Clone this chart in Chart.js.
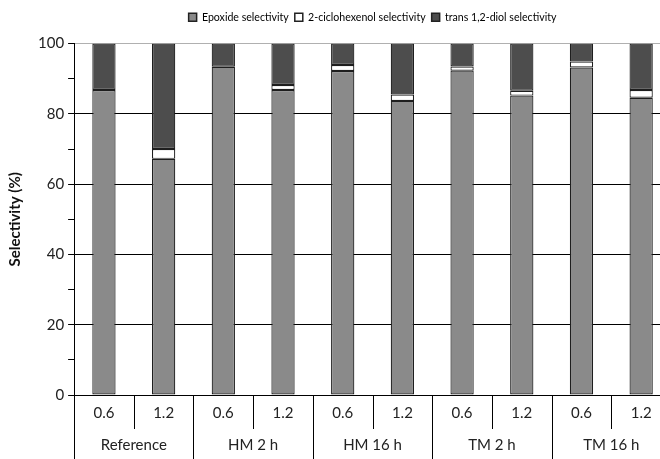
<!doctype html>
<html lang="en">
<head>
  <meta charset="UTF-8">
  <title>Selectivity</title>
  <script src="https://cdn.jsdelivr.net/npm/chart.js@4.4.1/dist/chart.umd.min.js"></script>
  <style>
    html, body { margin: 0; padding: 0; background: #fff; overflow: hidden; }
    #wrap { width: 671px; height: 459px; position: relative; }
  </style>
</head>
<body>
<div id="wrap"><canvas id="chart"></canvas></div>
<script>
  // data
  let doses = ['0.6', '1.2', '0.6', '1.2', '0.6', '1.2', '0.6', '1.2', '0.6', '1.2'];
  let groups = ['Reference', 'HM 2 h', 'HM 16 h', 'TM 2 h', 'TM 16 h'];
  let epoxide = [86.8, 67.2, 93.4, 86.8, 92.2, 83.7, 92.3, 85.2, 93.2, 84.6];
  let ciclohexenol = [0, 2.8, 0, 1.4, 1.7, 1.8, 1.2, 1.4, 1.7, 2.2];
  let diol = [13.2, 30.0, 6.6, 11.8, 6.1, 14.5, 6.5, 13.4, 5.1, 13.2];
  let yTicks = [0, 20, 40, 60, 80, 100];

  const font = "Lato";
  Chart.defaults.font.family = font;
  Chart.defaults.color = '#222';

  // separators under the x axis (short between doses, long between groups)
  const separators = {
    id: 'separators',
    afterDraw(chart) {
      const ctx = chart.ctx;
      const x = chart.scales.x;
      const area = chart.chartArea;
      const half = (x.getPixelForValue(1) - x.getPixelForValue(0)) / 2;
      ctx.save();
      ctx.strokeStyle = '#000';
      ctx.lineWidth = 1;
      for (let i = 0; i <= doses.length; i++) {
        const px = Math.round(x.getPixelForValue(i) - half) + 0.5;
        const bottom = i % 2 === 0 ? chart.height : area.bottom + 34;
        ctx.beginPath();
        ctx.moveTo(px, area.bottom);
        ctx.lineTo(px, bottom);
        ctx.stroke();
      }
      ctx.restore();
    }
  };

  // extra room under the legend, and legend centred over the plot area
  const legendPlace = {
    id: 'legendPlace',
    beforeInit(chart) {
      const fit = chart.legend.fit;
      chart.legend.fit = function () {
        fit.bind(chart.legend)();
        this.height += 11;
      };
    },
    afterLayout(chart) {
      chart.legend.left = chart.chartArea.left;
      chart.legend.right = chart.chartArea.right;
    }
  };

  new Chart(document.getElementById('chart'), {
    type: 'bar',
    data: {
      labels: doses,
      datasets: [
        { label: 'Epoxide selectivity', data: epoxide, backgroundColor: '#8a8a8a' },
        { label: '2-ciclohexenol selectivity', data: ciclohexenol, backgroundColor: '#ffffff' },
        { label: 'trans 1,2-diol selectivity', data: diol, backgroundColor: '#4d4d4d' }
      ]
    },
    options: {
      responsive: true,
      maintainAspectRatio: false,
      animation: false,
      layout: { padding: { left: 6, right: 0, top: 6, bottom: 0 } },
      datasets: {
        bar: {
          barPercentage: 0.39,
          categoryPercentage: 1,
          borderColor: '#1e1e1e',
          borderWidth: 1.2,
          borderSkipped: false
        }
      },
      plugins: {
        legend: {
          position: 'top',
          labels: {
            boxWidth: 8,
            boxHeight: 8,
            padding: 6,
            color: '#222',
            font: { size: 10.6, family: font },
            generateLabels(chart) {
              return chart.data.datasets.map((d, i) => ({
                text: d.label,
                fillStyle: d.backgroundColor,
                strokeStyle: '#222',
                lineWidth: 1.5,
                datasetIndex: i
              }));
            }
          }
        },
        tooltip: { enabled: false }
      },
      scales: {
        x: {
          stacked: true,
          grid: { display: false },
          border: { display: true, color: '#000', width: 1 },
          ticks: { color: '#222', font: { size: 15, family: font }, padding: 1 }
        },
        x2: {
          type: 'category',
          labels: groups,
          position: 'bottom',
          grid: { display: false },
          border: { display: false },
          ticks: { color: '#222', font: { size: 15, family: font }, padding: 5 }
        },
        y: {
          stacked: true,
          min: 0,
          max: 100,
          afterBuildTicks(scale) {
            const t = [];
            for (let v = 0; v <= 100; v += 10) t.push({ value: v });
            scale.ticks = t;
          },
          grid: {
            color: ctx => {
              const v = ctx.tick ? ctx.tick.value : 0;
              if (v === 100) return '#b0b0b0';
              if (v === 0) return 'rgba(0,0,0,0)';
              return v % 20 === 0 ? '#000' : 'rgba(0,0,0,0)';
            },
            tickColor: '#000',
            tickLength: 6,
            lineWidth: 1
          },
          border: { display: true, color: '#000', width: 1 },
          ticks: {
            color: '#222',
            font: { size: 15, family: font },
            padding: 4,
            callback: v => (yTicks.includes(v) ? String(v) : '')
          },
          title: {
            display: true,
            text: 'Selectivity (%)',
            color: '#111',
            font: { size: 15, weight: 'bold', family: font },
            padding: { top: 0, bottom: 10 }
          }
        }
      }
    },
    plugins: [separators, legendPlace]
  });
</script>
</body>
</html>
